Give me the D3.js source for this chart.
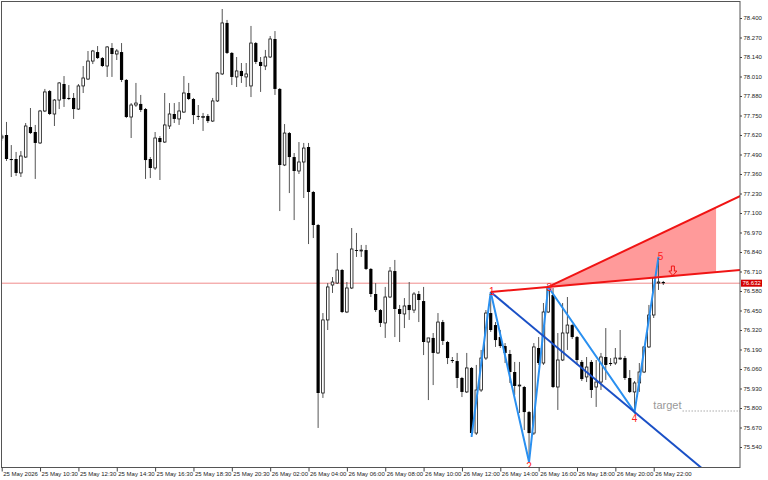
<!DOCTYPE html>
<html>
<head>
<meta charset="utf-8">
<script src="https://cdn.jsdelivr.net/npm/d3@7"></script>
<style>
  body { margin: 0; background: #fff; }
  svg { display: block; }
  text { font-family: "Liberation Sans", Arial, sans-serif; }
</style>
</head>
<body>
<div id="chart"></div>
<script>
// M15 candles
var opens = [77.600,77.620,77.460,77.460,77.367,77.473,77.673,77.640,77.567,77.780,
  77.913,77.760,77.853,77.960,77.867,77.867,77.793,77.947,77.993,78.113,
  78.173,78.133,78.080,78.200,78.160,78.173,77.987,77.740,77.820,77.827,
  77.793,77.460,77.400,77.600,77.573,77.680,77.760,77.727,77.773,77.900,
  77.860,77.747,77.740,77.747,77.713,77.847,78.027,78.367,78.167,78.007,
  78.047,78.007,77.947,78.233,78.107,78.080,78.140,78.260,77.927,77.420,
  77.633,77.473,77.380,77.440,77.540,77.240,77.020,75.900,76.387,76.620,
  76.633,76.720,76.440,76.600,76.853,76.847,76.853,76.727,76.560,76.453,
  76.367,76.540,76.713,76.460,76.427,76.487,76.453,76.560,76.513,76.240,
  76.267,76.167,76.373,76.240,76.120,76.113,76.000,75.907,76.067,75.633,
  75.920,76.133,76.433,76.353,76.273,76.213,76.160,76.040,75.947,75.940,
  75.773,75.633,76.200,76.100,76.440,76.553,75.940,76.120,76.300,76.353,
  76.273,76.107,76.007,76.107,75.940,75.973,76.140,76.100,76.100,76.127,
  76.133,76.000,75.907,75.967,76.040,76.207,76.420,76.633,76.640];
var highs = [77.627,77.707,77.553,77.507,77.513,77.700,77.800,77.687,77.787,77.927,
  77.920,77.860,77.973,78.013,77.953,77.900,77.960,78.080,78.180,78.187,
  78.213,78.140,78.213,78.233,78.193,78.233,77.993,77.833,77.967,77.887,
  77.800,77.473,77.640,77.613,77.900,77.833,77.833,77.840,78.013,77.967,
  77.867,77.820,77.767,77.760,77.867,78.040,78.460,78.387,78.173,78.140,
  78.100,78.100,78.347,78.240,78.140,78.187,78.280,78.313,77.933,77.693,
  77.640,77.500,77.573,77.567,77.567,77.247,77.027,76.433,76.633,76.673,
  76.833,76.727,76.640,77.000,76.967,76.887,76.887,76.733,76.633,76.460,
  76.607,76.740,76.787,76.487,76.533,76.640,76.573,76.580,76.607,76.267,
  76.300,76.433,76.387,76.247,76.140,76.167,76.007,76.167,76.073,76.087,
  76.187,76.453,76.573,76.373,76.320,76.233,76.187,76.107,76.107,75.947,
  75.780,76.233,76.273,76.500,76.607,76.600,76.300,76.500,76.540,76.360,
  76.280,76.120,76.140,76.120,76.120,76.167,76.333,76.133,76.200,76.320,
  76.147,76.053,75.980,76.100,76.213,76.487,76.673,76.807,76.647];
var lows = [77.580,77.447,77.340,77.347,77.340,77.467,77.627,77.327,77.560,77.773,
  77.753,77.680,77.793,77.807,77.853,77.727,77.787,77.900,77.987,78.093,
  78.127,78.073,78.007,78.007,78.120,77.973,77.733,77.600,77.807,77.773,
  77.327,77.333,77.387,77.320,77.567,77.660,77.700,77.687,77.767,77.853,
  77.693,77.720,77.647,77.700,77.707,77.840,78.020,78.160,77.953,77.940,
  77.967,77.940,77.873,78.093,77.907,78.053,78.133,77.887,77.113,77.413,
  77.233,77.053,77.360,77.200,76.893,76.933,75.667,75.867,76.320,76.567,
  76.627,76.433,76.433,76.593,76.807,76.807,76.720,76.540,76.440,76.340,
  76.267,76.533,76.273,76.240,76.333,76.387,76.433,76.373,76.153,75.853,
  75.953,76.160,76.220,76.093,76.100,75.933,75.873,75.900,75.607,75.620,
  75.907,76.120,76.307,76.207,76.200,76.100,75.967,75.887,75.767,75.653,
  75.440,75.620,76.087,76.087,76.433,75.933,75.787,76.113,76.187,76.260,
  76.087,75.980,75.973,75.867,75.807,75.920,75.987,76.080,76.087,76.120,
  75.987,75.900,75.773,75.907,76.033,76.200,76.400,76.587,76.620];
var closes = [77.613,77.460,77.453,77.367,77.480,77.680,77.633,77.567,77.780,77.907,
  77.760,77.853,77.967,77.860,77.860,77.793,77.947,78.000,78.113,78.180,
  78.133,78.080,78.207,78.160,78.180,77.987,77.740,77.820,77.833,77.787,
  77.453,77.400,77.600,77.573,77.687,77.760,77.727,77.780,77.900,77.860,
  77.753,77.743,77.743,77.713,77.847,78.033,78.367,78.167,78.007,78.047,
  78.013,78.027,78.233,78.107,78.080,78.140,78.260,77.927,77.420,77.633,
  77.473,77.380,77.440,77.533,77.240,77.020,75.900,76.387,76.607,76.640,
  76.720,76.440,76.600,76.860,76.847,76.853,76.727,76.560,76.453,76.367,
  76.540,76.713,76.460,76.427,76.480,76.453,76.560,76.520,76.240,76.267,
  76.167,76.373,76.247,76.133,76.113,76.000,75.907,76.067,75.633,75.920,
  76.133,76.433,76.320,76.253,76.213,76.167,76.040,75.947,75.953,75.773,
  75.633,76.207,76.100,76.440,76.600,75.940,76.120,76.300,76.353,76.273,
  76.120,75.993,76.073,75.920,75.973,76.140,76.087,76.093,76.133,76.133,
  76.000,75.907,75.967,76.040,76.207,76.420,76.667,76.640,76.632];

var timeTickIdx = [0,8,16,24,32,40,48,56,64,72,80,88,96,104,112,120,128,136];
var timeLabels = ["25 May 2026","25 May 10:30","25 May 12:30","25 May 14:30","25 May 16:30",
  "25 May 18:30","25 May 20:30","26 May 02:00","26 May 04:00","26 May 06:00","26 May 08:00",
  "26 May 10:00","26 May 12:00","26 May 14:00","26 May 16:00","26 May 18:00","26 May 20:00","26 May 22:00"];
var priceTicks = [78.400,78.270,78.140,78.010,77.880,77.750,77.620,77.490,77.360,77.230,77.100,
  76.970,76.840,76.710,76.580,76.450,76.320,76.190,76.060,75.930,75.800,75.670,75.540];

var lastPrice = 76.632;

// Wolfe wave: bar index of each swing, and whether it is a high or a low
var waveIdx = [98, 102, 110, 114, 132, 137];
var waveType = ["L", "H", "L", "H", "L", "H"];
var waveNames = ["", "1", "2", "3", "4", "5"];
var zoneEndIdx = 149;
var targetPrice = 75.78;
var targetStartIdx = 142;
var arrowIdx = 140;
var arrowPrice = 76.683;

var W = 768, H = 480;
var plot = { left: 1.5, top: 1.5, right: 740, bottom: 467.5 };

var x = d3.scaleLinear().domain([0, 138]).range([1.7, 663.3]);
var y = d3.scaleLinear().domain([75.40, 78.52]).range([468, 0]);
var fmt = d3.format(".3f");

var svg = d3.select("#chart").append("svg")
  .attr("width", W)
  .attr("height", H);

svg.append("defs").append("clipPath").attr("id", "plotClip")
  .append("rect")
  .attr("x", plot.left).attr("y", plot.top)
  .attr("width", plot.right - plot.left)
  .attr("height", plot.bottom - plot.top);

var g = svg.append("g").attr("clip-path", "url(#plotClip)");

var bars = d3.range(opens.length).map(function(i) {
  return { i: i, o: opens[i], h: highs[i], l: lows[i], c: closes[i] };
});

var wp = waveIdx.map(function(idx, k) {
  return { i: idx, p: waveType[k] == "H" ? highs[idx] : lows[idx] };
});

function lineAt(a, b, i) {
  return a.p + (b.p - a.p) * (i - a.i) / (b.i - a.i);
}

// sweet zone: line 1-3 and a line through 3 parallel to 2-4
var far = 160;
var slope24 = (wp[4].p - wp[2].p) / (wp[4].i - wp[2].i);
function upperAt(i) { return wp[3].p + slope24 * (i - wp[3].i); }

g.append("path")
  .attr("d", d3.line()([
    [x(wp[3].i), y(wp[3].p)],
    [x(zoneEndIdx), y(upperAt(zoneEndIdx))],
    [x(zoneEndIdx), y(lineAt(wp[1], wp[3], zoneEndIdx))]
  ]) + "Z")
  .attr("fill", "#ff9a9a");

// current price line
g.append("line")
  .attr("x1", plot.left).attr("x2", plot.right)
  .attr("y1", y(lastPrice)).attr("y2", y(lastPrice))
  .attr("stroke", "#f08c8c")
  .attr("stroke-width", 1);

// candles
g.selectAll(".wick").data(bars).enter().append("line")
  .attr("class", "wick")
  .attr("x1", function(d) { return x(d.i); })
  .attr("x2", function(d) { return x(d.i); })
  .attr("y1", function(d) { return y(d.h); })
  .attr("y2", function(d) { return y(d.l); })
  .attr("stroke", "#555")
  .attr("stroke-width", 1);

g.selectAll(".body").data(bars).enter().append("rect")
  .attr("class", "body")
  .attr("x", function(d) { return d.c > d.o ? x(d.i) - 1.3 : x(d.i) - 1.6; })
  .attr("width", function(d) { return d.c > d.o ? 2.6 : 3.2; })
  .attr("y", function(d) { return y(Math.max(d.o, d.c)); })
  .attr("height", function(d) { return Math.max(Math.abs(y(d.o) - y(d.c)), 0.9); })
  .attr("fill", function(d) { return d.c > d.o ? "#fff" : "#000"; })
  .attr("stroke", function(d) { return d.c > d.o ? "#111" : "none"; })
  .attr("stroke-width", 0.8);

// zigzag
g.append("path")
  .attr("d", d3.line()
    .x(function(d) { return x(d.i); })
    .y(function(d) { return y(d.p); })(wp))
  .attr("fill", "none")
  .attr("stroke", "#2a90f0")
  .attr("stroke-width", 2);

// 1-4 line
g.append("line")
  .attr("x1", x(wp[1].i)).attr("y1", y(wp[1].p))
  .attr("x2", x(far)).attr("y2", y(lineAt(wp[1], wp[4], far)))
  .attr("stroke", "#1a50c6")
  .attr("stroke-width", 2);

// 1-3 line
g.append("line")
  .attr("x1", x(wp[1].i)).attr("y1", y(wp[1].p))
  .attr("x2", x(far)).attr("y2", y(lineAt(wp[1], wp[3], far)))
  .attr("stroke", "#f01414")
  .attr("stroke-width", 2);

// upper line from 3
g.append("line")
  .attr("x1", x(wp[3].i)).attr("y1", y(wp[3].p))
  .attr("x2", x(far)).attr("y2", y(upperAt(far)))
  .attr("stroke", "#f01414")
  .attr("stroke-width", 2);

// point labels
var labelOff = [[0, 0], [1, -1], [0, 4], [1, 1], [0, 6], [2, 0]];
g.selectAll(".wlabel").data(wp.slice(1)).enter().append("text")
  .attr("class", "wlabel")
  .attr("x", function(d, k) { return x(d.i) + labelOff[k + 1][0]; })
  .attr("y", function(d, k) { return y(d.p) + labelOff[k + 1][1]; })
  .attr("text-anchor", "middle")
  .attr("dominant-baseline", "central")
  .attr("font-size", "10px")
  .attr("fill", "#ff2020")
  .text(function(d, k) { return waveNames[k + 1]; });

// hollow down arrow
var ax = x(arrowIdx), ay = y(arrowPrice);
g.append("path")
  .attr("d", "M" + ax + "," + ay +
    "L" + (ax - 4) + "," + (ay - 4.5) +
    "L" + (ax - 1.5) + "," + (ay - 4.5) +
    "L" + (ax - 1.5) + "," + (ay - 9.5) +
    "L" + (ax + 1.5) + "," + (ay - 9.5) +
    "L" + (ax + 1.5) + "," + (ay - 4.5) +
    "L" + (ax + 4) + "," + (ay - 4.5) + "Z")
  .attr("fill", "none")
  .attr("stroke", "#f01414")
  .attr("stroke-width", 1);

// target
g.append("line")
  .attr("x1", x(targetStartIdx)).attr("x2", plot.right)
  .attr("y1", y(targetPrice)).attr("y2", y(targetPrice))
  .attr("stroke", "#aaa")
  .attr("stroke-dasharray", "1.5,1.5");
g.append("text")
  .attr("x", x(targetStartIdx) - 1)
  .attr("y", y(targetPrice) - 2)
  .attr("text-anchor", "end")
  .attr("font-size", "11px")
  .attr("fill", "#999")
  .text("target");

// frame
svg.append("rect")
  .attr("x", plot.left).attr("y", plot.top)
  .attr("width", plot.right - plot.left)
  .attr("height", plot.bottom - plot.top)
  .attr("fill", "none")
  .attr("stroke", "#555");

// price axis
var yAxis = svg.append("g")
  .attr("transform", "translate(" + plot.right + ",0)")
  .call(d3.axisRight(y).tickValues(priceTicks).tickSize(2).tickPadding(1.5).tickFormat(fmt));
yAxis.select(".domain").remove();
yAxis.selectAll("line").attr("stroke", "#444");
yAxis.selectAll("text")
  .attr("font-size", "6px")
  .attr("font-family", "Liberation Sans, Arial, sans-serif")
  .attr("fill", "#222");

// time axis
var xAxis = svg.append("g")
  .attr("transform", "translate(0," + plot.bottom + ")")
  .call(d3.axisBottom(x).tickValues(timeTickIdx).tickSize(4).tickPadding(0)
    .tickFormat(function(d, k) { return timeLabels[k]; }));
xAxis.select(".domain").remove();
xAxis.selectAll("line").attr("stroke", "#444");
xAxis.selectAll("text")
  .attr("text-anchor", "start")
  .attr("x", 1)
  .attr("font-size", "6px")
  .attr("font-family", "Liberation Sans, Arial, sans-serif")
  .attr("fill", "#222");

// last price tag
svg.append("rect")
  .attr("x", plot.right + 1).attr("y", y(lastPrice) - 3.5)
  .attr("width", 21).attr("height", 7)
  .attr("fill", "#d40000");
svg.append("text")
  .attr("x", plot.right + 2.5).attr("y", y(lastPrice) + 2.2)
  .attr("font-size", "6px")
  .attr("fill", "#fff")
  .text(fmt(lastPrice));
</script>
</body>
</html>
